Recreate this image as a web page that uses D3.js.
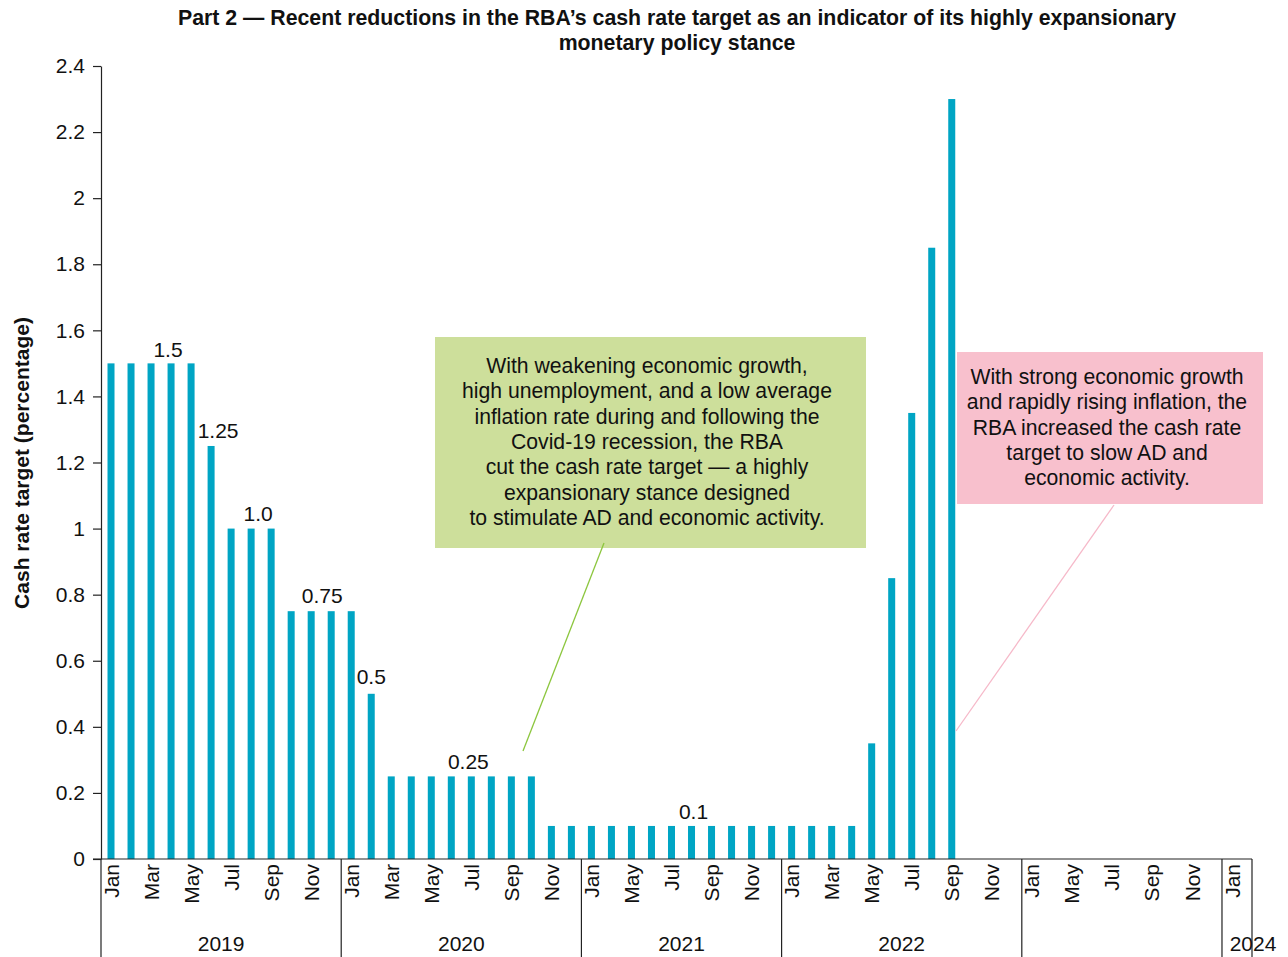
<!DOCTYPE html>
<html>
<head>
<meta charset="utf-8">
<script src="https://cdn.jsdelivr.net/npm/d3@7"></script>
<style>
  html, body { margin: 0; padding: 0; background: #fff; }
  svg { display: block; font-family: "Liberation Sans", Arial, Helvetica, sans-serif; }
</style>
</head>
<body>
<svg id="chart" width="1288" height="957"></svg>
<script>
// Year groups and the month categories within each (monthly RBA cash rate target)
const yearLabels = ["2019", "2020", "2021", "2022", "", "2024"];
const months2019 = ["Jan","Feb","Mar","Apr","May","Jun","Jul","Aug","Sep","Oct","Nov","Dec"];
const months2020 = ["Jan","Feb","Mar","Apr","May","Jun","Jul","Aug","Sep","Oct","Nov","Dec"];
const months2021 = ["Jan","Mar","May","Jun","Jul","Aug","Sep","Oct","Nov","Dec"];
const months2022 = ["Jan","Feb","Mar","Apr","May","Jun","Jul","Aug","Sep","Oct","Nov","Dec"];
const months2023 = ["Jan","Mar","May","Jun","Jul","Aug","Sep","Oct","Nov","Dec"];
const months2024 = ["Jan"];

// Cash rate target (%) per category; null = no observation
const rate2019 = [1.5,1.5,1.5,1.5,1.5,1.25,1.0,1.0,1.0,0.75,0.75,0.75];
const rate2020 = [0.75,0.5,0.25,0.25,0.25,0.25,0.25,0.25,0.25,0.25,0.1,0.1];
const rate2021 = [0.1,0.1,0.1,0.1,0.1,0.1,0.1,0.1,0.1,0.1];
const rate2022 = [0.1,0.1,0.1,0.1,0.35,0.85,1.35,1.85,2.3,null,null,null];
const rate2023 = [null,null,null,null,null,null,null,null,null,null];
const rate2024 = [null];

// Y axis ticks
const yTicks = [0,0.2,0.4,0.6,0.8,1,1.2,1.4,1.6,1.8,2,2.2,2.4];

// Value callouts: category key, value, label text, nudges (px)
const callouts = [
  { key: "2019-2",  value: 1.5,  text: "1.5",  dx: 17, dy: -6 },
  { key: "2019-5",  value: 1.25, text: "1.25", dx: 7,  dy: -8 },
  { key: "2019-7",  value: 1.0,  text: "1.0",  dx: 7,  dy: -8 },
  { key: "2019-10", value: 0.75, text: "0.75", dx: 11, dy: -8 },
  { key: "2020-1",  value: 0.5,  text: "0.5",  dx: 0,  dy: -10 },
  { key: "2020-6",  value: 0.25, text: "0.25", dx: -3, dy: -7 },
  { key: "2021-5",  value: 0.1,  text: "0.1",  dx: 2,  dy: -7 }
];

const monthSets = [months2019, months2020, months2021, months2022, months2023, months2024];
const rateSets  = [rate2019, rate2020, rate2021, rate2022, rate2023, rate2024];
const yearKeys  = ["2019","2020","2021","2022","2023","2024"];

const data = [];
monthSets.forEach((ms, gi) => {
  ms.forEach((m, mi) => {
    data.push({ key: yearKeys[gi] + "-" + mi, group: gi, month: m, value: rateSets[gi][mi] });
  });
});

const svg = d3.select("#chart");
const plot = { left: 101, right: 1242, axisEnd: 1252, top: 66, bottom: 859 };

const x = d3.scaleBand()
  .domain(data.map(d => d.key))
  .range([plot.left, plot.right])
  .paddingInner(0).paddingOuter(0);

const y = d3.scaleLinear().domain([0, 2.4]).range([plot.bottom, plot.top]);

const barColor = "#00a5c4";
const textColor = "#111";
const fs = 21;

// Title
const title = svg.append("text")
  .attr("text-anchor", "middle")
  .attr("font-weight", "bold")
  .attr("font-size", 21.3)
  .attr("fill", textColor);
title.append("tspan").attr("x", 677).attr("y", 25)
  .text("Part 2 \u2014 Recent reductions in the RBA\u2019s cash rate target as an indicator of its highly expansionary");
title.append("tspan").attr("x", 677).attr("y", 50)
  .text("monetary policy stance");

// Y axis
const yAxis = d3.axisLeft(y)
  .tickValues(yTicks)
  .tickSize(8)
  .tickSizeOuter(0)
  .tickPadding(8)
  .tickFormat(d => String(+d.toFixed(1)));
const yg = svg.append("g").attr("transform", `translate(${plot.left},0)`).call(yAxis);
yg.selectAll("text").attr("font-size", fs).attr("fill", textColor)
  .attr("font-family", "Liberation Sans, Arial, sans-serif");
yg.selectAll("line, path").attr("stroke", "#222").attr("stroke-width", 1.2);

// Y axis title
svg.append("text")
  .attr("transform", `translate(29,463) rotate(-90)`)
  .attr("text-anchor", "middle")
  .attr("font-weight", "bold")
  .attr("font-size", 21)
  .attr("fill", textColor)
  .text("Cash rate target (percentage)");

// Bars
const barW = x.bandwidth() * 0.35;
svg.append("g").selectAll("rect")
  .data(data.filter(d => d.value !== null))
  .join("rect")
  .attr("x", d => x(d.key) + (x.bandwidth() - barW) / 2)
  .attr("y", d => y(d.value))
  .attr("width", barW)
  .attr("height", d => y(0) - y(d.value))
  .attr("fill", barColor);

// X baseline
svg.append("line")
  .attr("x1", plot.left - 8).attr("x2", plot.axisEnd)
  .attr("y1", y(0)).attr("y2", y(0))
  .attr("stroke", "#222").attr("stroke-width", 1.2);

// Month labels (every second category)
svg.append("g").selectAll("text")
  .data(data.filter((d, i) => i % 2 === 0))
  .join("text")
  .attr("transform", d => `translate(${x(d.key) + x.bandwidth() / 2},${y(0) + 5}) rotate(-90)`)
  .attr("text-anchor", "end")
  .attr("dy", "0.36em")
  .attr("font-size", fs)
  .attr("fill", textColor)
  .text(d => d.month);

// Year group separators and labels
const groupBounds = monthSets.map((ms, gi) => {
  const items = data.filter(d => d.group === gi);
  const x0 = x(items[0].key);
  const x1 = x(items[items.length - 1].key) + x.bandwidth();
  return { gi, x0, x1 };
});
const sepXs = groupBounds.map(g => g.x0).concat([plot.axisEnd]);
svg.append("g").selectAll("line")
  .data(sepXs)
  .join("line")
  .attr("x1", d => d).attr("x2", d => d)
  .attr("y1", y(0)).attr("y2", 957)
  .attr("stroke", "#222").attr("stroke-width", 1.2);

svg.append("g").selectAll("text")
  .data(groupBounds)
  .join("text")
  .attr("x", g => g.gi === 5 ? plot.axisEnd + 1 : (g.x0 + g.x1) / 2)
  .attr("y", 951)
  .attr("text-anchor", "middle")
  .attr("font-size", fs)
  .attr("fill", textColor)
  .text(g => yearLabels[g.gi]);

// Value callouts above bars
svg.append("g").selectAll("text")
  .data(callouts)
  .join("text")
  .attr("x", d => x(d.key) + x.bandwidth() / 2 + d.dx)
  .attr("y", d => y(d.value) + d.dy)
  .attr("text-anchor", "middle")
  .attr("font-size", fs)
  .attr("fill", textColor)
  .text(d => d.text);

// Annotation boxes with leader lines
const notes = [
  {
    box: [435, 337, 431, 211], fill: "#cddf9b", line: "#8cc63e",
    from: [604, 543], to: [523, 751], cx: 647, y0: 373, lh: 25.3,
    lines: [
      "With weakening economic growth,",
      "high unemployment, and a low average",
      "inflation rate during and following the",
      "Covid-19 recession, the RBA",
      "cut the cash rate target \u2014 a highly",
      "expansionary stance designed",
      "to stimulate AD and economic activity."
    ]
  },
  {
    box: [957, 352, 306, 152], fill: "#f8c0cd", line: "#f6b9c9",
    from: [1114, 505], to: [956, 731], cx: 1107, y0: 384, lh: 25.3,
    lines: [
      "With strong economic growth",
      "and rapidly rising inflation, the",
      "RBA increased the cash rate",
      "target to slow AD and",
      "economic activity."
    ]
  }
];

notes.forEach(n => {
  svg.append("rect")
    .attr("x", n.box[0]).attr("y", n.box[1])
    .attr("width", n.box[2]).attr("height", n.box[3])
    .attr("fill", n.fill);
  svg.append("line")
    .attr("x1", n.from[0]).attr("y1", n.from[1])
    .attr("x2", n.to[0]).attr("y2", n.to[1])
    .attr("stroke", n.line).attr("stroke-width", 1.3);
  const t = svg.append("text")
    .attr("text-anchor", "middle")
    .attr("font-size", 21.2)
    .attr("fill", textColor);
  n.lines.forEach((l, i) => {
    t.append("tspan").attr("x", n.cx).attr("y", n.y0 + i * n.lh).text(l);
  });
});
</script>
</body>
</html>
